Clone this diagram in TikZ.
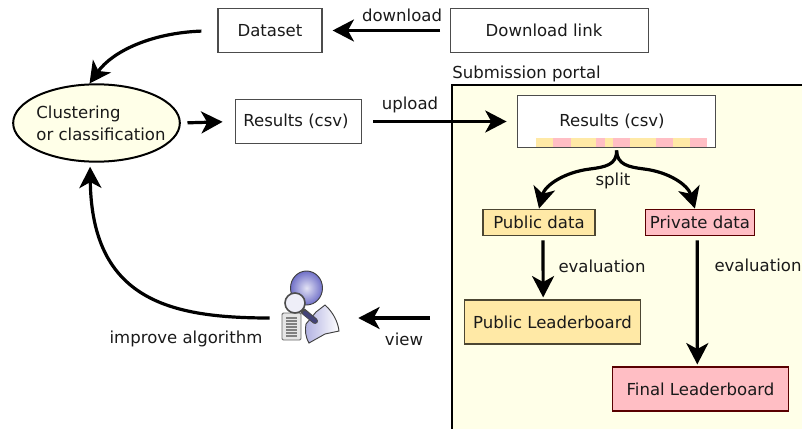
\documentclass[tikz,border=0pt]{standalone}
\usepackage{fontspec}
\setmainfont{DejaVu Sans}
\usetikzlibrary{positioning,arrows.meta,shapes.geometric}
\definecolor{portalbg}{HTML}{FFFFE8}
\definecolor{pubfill}{HTML}{FFE9A6}
\definecolor{privfill}{HTML}{FFBEC4}
\definecolor{headblue}{HTML}{7070C8}
\definecolor{inktext}{HTML}{1A1A1A}
\tikzset{
	box/.style={draw=black!70, line width=.9pt, fill=white, minimum height=32.5pt, inner sep=0pt},
	pubbox/.style={draw=black!70!pubfill, line width=.9pt, fill=pubfill, inner sep=0pt},
	privbox/.style={draw=red!35!black, line width=.9pt, fill=privfill, inner sep=0pt},
	bigarrow/.style={line width=2.4pt, -{Stealth[length=16pt, width=16.5pt, inset=4.5pt]}},
	lbl/.style={inner sep=0pt}
}
\begin{document}
\begin{tikzpicture}[x=0.75pt, y=-0.75pt, font=\fontsize{12.4pt}{15pt}\selectfont, text=inktext]
	\useasboundingbox (0,0) rectangle (802,428);
	% submission area
	\fill[portalbg] (452,85) rectangle (812,438);
	\draw[line width=1.5pt] (452,438) -- (452,85) -- (812,85);
	\node[lbl, anchor=west] (portal) at (452,74) {Submission portal};

	\node[box, minimum width=78pt] (dataset) at (270,30.5) {Dataset};
	\node[box, minimum width=148pt] (link) at (549.5,30.5) {};
	\node[lbl] (linktext) at (544,30.5) {Download link};
	\node[draw=black, line width=1.5pt, fill=portalbg, ellipse, minimum width=125pt, minimum height=58pt, inner sep=0pt] (algo) at (96.5,123) {};
	\node[lbl, align=left] (algotext) at (101,123) {Clustering\\[1.5pt]or classification};
	\node[box, minimum width=95pt] (results) at (298.5,121.5) {};
	\node[lbl] (resultstext) at (296,121) {Results (csv)};
	\node[box, minimum width=148pt, minimum height=39.5pt] (subres) at (616.5,121.5) {};
	\node[lbl] (subrestext) at (612,121) {Results (csv)};

	% the strip of split rows
	\foreach \xa/\xb/\col in {536/553.3/pubfill,553.3/570.7/privfill,570.7/596/pubfill,596/604.7/privfill,604.7/613.3/pubfill,613.3/630/privfill,630/656/pubfill,656/673.3/privfill,673.3/690/pubfill,690/707.3/privfill}
		\fill[\col] (\xa,138) rectangle (\xb,146.5);

	\node[pubbox, minimum width=84pt, minimum height=20pt] (public) at (539,222.5) {Public data};
	\node[privbox, minimum width=82pt, minimum height=20pt] (private) at (700,222.5) {Private data};
	\node[pubbox, minimum width=132pt, minimum height=33pt] (publb) at (552.5,322) {Public Leaderboard};
	\node[privbox, minimum width=132pt, minimum height=33pt] (finallb) at (700.5,389) {Final Leaderboard};

	% the reader
	\node[minimum width=66pt, minimum height=30pt, inner sep=0pt] (reader) at (314,318) {};
	\draw[black!60, fill=black!10, line width=.7pt, rounded corners=1pt] (282,313) rectangle (301,340);
	\foreach \y in {318,321,...,336}
		\draw[black!50, line width=.8pt] (286,\y) -- (297,\y);
	\draw[black!75, line width=.7pt, left color=headblue!55, right color=white] (306,324) -- (316,312) -- (325,305) .. controls (333,312) and (338,322) .. (339,331) -- (325,334) -- (309,343) .. controls (305,336) and (305,330) .. (306,324) -- cycle;
	\draw[black!75, line width=.7pt, inner color=headblue!20, outer color=headblue] (306.5,288) ellipse (16 and 17);
	\draw[black!70, line cap=round, line width=4.5pt] (303,311) -- (315,321);
	\draw[headblue!60!black, line cap=round, line width=3pt] (305,313) -- (315,321);
	\draw[black!70, fill=headblue!12, line width=1.2pt] (295,303) circle (10);

	% connectors
	\draw[bigarrow, shorten <=7.5pt, shorten >=7.5pt] (link.west) -- (dataset.east);
	\draw[bigarrow, shorten <=12pt] (dataset.west) .. controls (150,33) and (112,52) .. (algo.100);
	\draw[bigarrow, shorten <=5pt, shorten >=9pt] (algo.east) -- (results.west);
	\draw[bigarrow, shorten <=8pt, shorten >=8pt] (results.east) -- (subres.west);
	\draw[bigarrow, shorten <=1.5pt] (subres.south) .. controls (617,165) and (605,167) .. (590,169) .. controls (565,172) and (545,185) .. (public.north);
	\draw[bigarrow, shorten <=1.5pt] (subres.south) .. controls (617,165) and (629,167) .. (644,169) .. controls (669,172) and (688,185) .. (private.110);
	\draw[bigarrow, shorten <=3pt, shorten >=1.5pt] ([xshift=3pt]public.south) -- ([xshift=-7pt]publb.north);
	\draw[bigarrow, shorten <=3pt, shorten >=1.5pt] ([xshift=-2pt]private.south) -- ([xshift=-2.4pt]finallb.north);
	\coordinate (viewstart) at (430,318);
	\draw[bigarrow] (viewstart) -- (reader.east);
	\draw[bigarrow, shorten >=3pt] (reader.west) .. controls (170,318) and (92,300) .. (algo.south -| 90,0);

	% labels
	\node[lbl] (downloadlbl) at (402,15) {download};
	\node[lbl] (uploadlbl) at (410,105) {upload};
	\node[lbl] (splitlbl) at (613,181) {split};
	\node[lbl] (evalpub) at (602,266) {evaluation};
	\node[lbl] (evalpriv) at (758,265) {evaluation};
	\node[lbl] (viewlbl) at (404,339) {view};
	\node[lbl] (improvelbl) at (186,339) {improve algorithm};
\end{tikzpicture}
\end{document}
